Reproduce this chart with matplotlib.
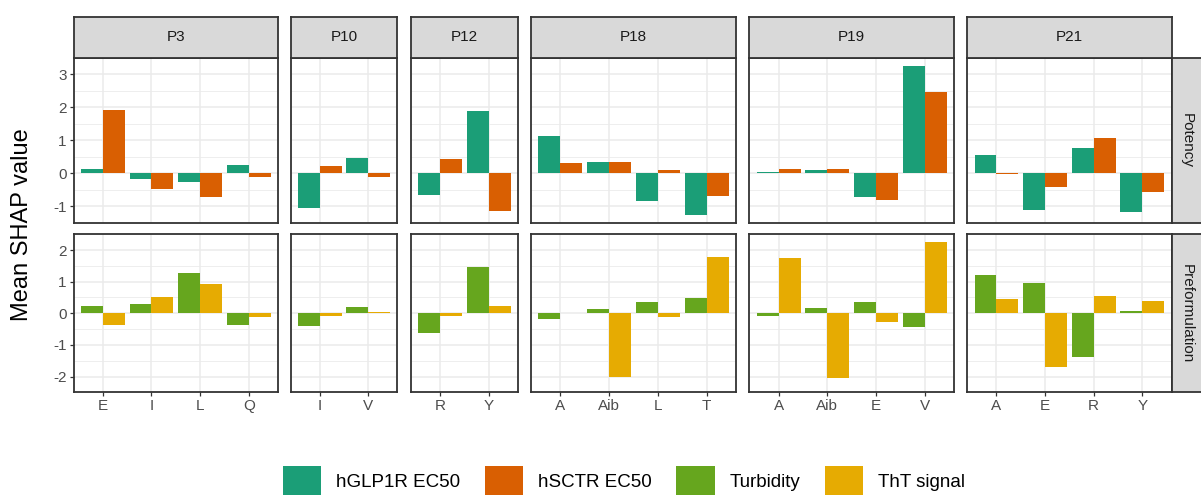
import matplotlib
matplotlib.use("Agg")
import matplotlib.pyplot as plt
from matplotlib.patches import Patch
import numpy as np

plt.rcParams["font.family"] = ["Liberation Sans", "DejaVu Sans"]

# Data
peptides = ["P3", "P10", "P12", "P18", "P19", "P21"]
residues = [["E", "I", "L", "Q"], ["I", "V"], ["R", "Y"],
            ["A", "Aib", "L", "T"], ["A", "Aib", "E", "V"], ["A", "E", "R", "Y"]]
glp1r = [[0.12, -0.18, -0.26, 0.26], [-1.04, 0.47], [-0.65, 1.89],
         [1.14, 0.35, -0.84, -1.26], [0.03, 0.11, -0.72, 3.25], [0.55, -1.12, 0.77, -1.18]]
sctr = [[1.91, -0.46, -0.71, -0.11], [0.21, -0.11], [0.44, -1.15],
        [0.30, 0.33, 0.09, -0.69], [0.14, 0.13, -0.81, 2.46], [-0.01, -0.41, 1.07, -0.55]]
turbidity = [[0.22, 0.28, 1.26, -0.36], [-0.40, 0.19], [-0.61, 1.46],
             [-0.17, 0.13, 0.35, 0.49], [-0.07, 0.17, 0.36, -0.44], [1.22, 0.95, -1.37, 0.06]]
tht = [[-0.38, 0.50, 0.93, -0.11], [-0.10, 0.03], [-0.09, 0.24],
       [0.02, -2.01, -0.12, 1.77], [1.75, -2.06, -0.28, 2.26], [0.45, -1.70, 0.55, 0.40]]
row_labels = ["Potency", "Preformulation"]
series_names = ["hGLP1R EC50", "hSCTR EC50", "Turbidity", "ThT signal"]
colors = ["#1b9e77", "#d95f02", "#66a61e", "#e6ab02"]

W, H = 1201, 495
fig = plt.figure(figsize=(W / 100, H / 100), dpi=100)


def px_axes(x0, y0, x1, y1):
    return fig.add_axes([x0 / W, 1 - y1 / H, (x1 - x0) / W, (y1 - y0) / H])


# Layout in pixels
col_x = [(73.7, 277.9), (290.7, 397.2), (410.8, 518.3),
         (531.0, 736.0), (749.3, 954.3), (967.3, 1171.5)]
row_y = [(57.5, 223.0), (234.2, 392.4)]
strip_top = 17.0
border = "#333333"


def row_limits(a, b):
    vals = np.concatenate([np.concatenate([np.array(v) for v in a]),
                           np.concatenate([np.array(v) for v in b])])
    lo, hi = vals.min(), vals.max()
    pad = 0.05 * (hi - lo)
    return lo - pad, hi + pad


rows = [(glp1r, sctr, colors[0], colors[1], [-1, 0, 1, 2, 3]),
        (turbidity, tht, colors[2], colors[3], [-2, -1, 0, 1, 2])]

for r, (sa, sb, ca, cb, yticks) in enumerate(rows):
    ylo, yhi = row_limits(sa, sb)
    y0, y1 = row_y[r]
    for c, pep in enumerate(peptides):
        x0, x1 = col_x[c]
        ax = px_axes(x0, y0, x1, y1)
        n = len(residues[c])
        xs = np.arange(n)
        ax.bar(xs - 0.225, sa[c], width=0.45, color=ca, linewidth=0, zorder=3)
        ax.bar(xs + 0.225, sb[c], width=0.45, color=cb, linewidth=0, zorder=3)
        ax.set_xlim(-0.6, n - 0.4)
        ax.set_ylim(ylo, yhi)
        ax.set_xticks(xs)
        ax.set_yticks(yticks)
        ax.set_yticks(np.arange(yticks[0] - 0.5, yticks[-1] + 1.0, 1.0), minor=True)
        ax.grid(True, which="major", color="#ebebeb", linewidth=1.1, zorder=0)
        ax.grid(True, which="minor", axis="y", color="#ebebeb", linewidth=0.6, zorder=0)
        ax.set_axisbelow(True)
        for sp in ax.spines.values():
            sp.set_color(border)
            sp.set_linewidth(1.3)
        ax.tick_params(which="minor", length=0)
        ax.tick_params(which="major", color=border, length=3, width=0.9,
                       labelsize=11, labelcolor="#4d4d4d", pad=2)
        if r == 1:
            ax.set_xticklabels(residues[c])
        else:
            ax.tick_params(axis="x", length=0, labelbottom=False)
        if c == 0:
            ax.set_yticklabels([str(t) for t in yticks])
        else:
            ax.tick_params(axis="y", length=0, labelleft=False)

        if r == 0:
            sax = px_axes(x0, strip_top, x1, y0)
            sax.set_facecolor("#d9d9d9")
            sax.set_xticks([])
            sax.set_yticks([])
            for sp in sax.spines.values():
                sp.set_color(border)
                sp.set_linewidth(1.3)
            sax.text(0.5, 0.5, pep, ha="center", va="center", fontsize=11,
                     color="#1a1a1a", transform=sax.transAxes)

    # right strip
    rax = px_axes(1171.5, y0, 1214, y1)
    rax.set_facecolor("#d9d9d9")
    rax.set_xticks([])
    rax.set_yticks([])
    for sp in rax.spines.values():
        sp.set_color(border)
        sp.set_linewidth(1.3)
    fig.text(1187 / W, 1 - (y0 + y1) / 2 / H, row_labels[r], rotation=-90,
             ha="center", va="center", fontsize=11, color="#1a1a1a")

fig.text(22 / W, 1 - 225 / H, "Mean SHAP value", rotation=90,
         ha="center", va="center", fontsize=17, color="black")

handles = [Patch(facecolor=col, edgecolor="none") for col in colors]
fig.legend(handles, series_names, loc="center", bbox_to_anchor=(624 / W, 1 - 481 / H),
           ncol=4, frameon=False, fontsize=13.5, handlelength=2.05, handleheight=2.05,
           handletextpad=0.8, columnspacing=1.3, borderpad=0, borderaxespad=0)

fig.savefig("out.png", dpi=100)
plt.close(fig)
